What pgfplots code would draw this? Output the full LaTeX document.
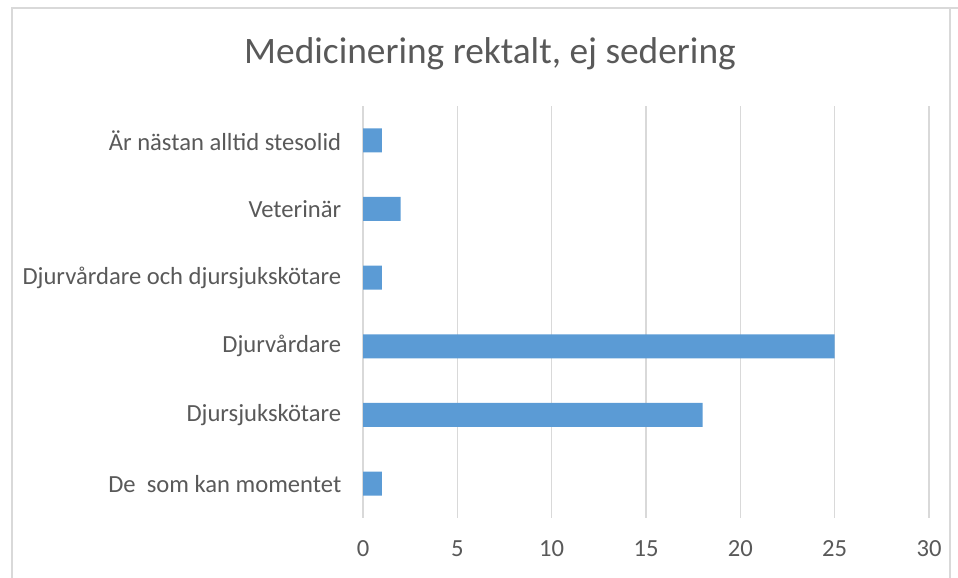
\documentclass[border=0pt]{standalone}
\usepackage{pgfplots}
\pgfplotsset{compat=1.18}
\usepackage{fontspec}
\setmainfont{Carlito}
\definecolor{barblue}{HTML}{5B9BD5}
\definecolor{txt}{HTML}{595959}
\definecolor{grd}{HTML}{D9D9D9}
\begin{document}
\begin{tikzpicture}[x=1bp,y=1bp]
\path[use as bounding box] (0,0) rectangle (958,578);
\draw[grd, line width=1.2bp] (12,0) -- (12,570) -- (958,570);
\draw[grd, line width=1.2bp] (950,0) -- (950,570);
\node[txt, font=\fontsize{37.5}{42}\selectfont] at (490,524) {Medicinering rektalt, ej sedering};
\begin{axis}[
  at={(363bp,60bp)}, anchor=south west,
  scale only axis, width=566bp, height=412bp,
  xmin=0, xmax=30, ymin=-0.5, ymax=5.5,
  xtick={0,5,...,30},
  ytick={0,1,2,3,4,5},
  yticklabels={{De\ \ som kan momentet},Djursjukskötare,Djurvårdare,{Djurvårdare och djursjukskötare},Veterinär,{Är nästan alltid stesolid}},
  xmajorgrids, major grid style={grd, line width=1.2bp},
  axis line style={draw=none},
  tick style={draw=none},
  ticklabel style={txt, font=\fontsize{24.7}{28}\selectfont},
  /pgf/number format/assume math mode=true,
  xticklabel style={yshift=-19bp},
  yticklabel style={xshift=-14bp},
  xbar, bar width=24bp,
]
\addplot[fill=barblue, draw=none] coordinates {(1,0) (18,1) (25,2) (1,3) (2,4) (1,5)};
\end{axis}
\end{tikzpicture}
\end{document}
